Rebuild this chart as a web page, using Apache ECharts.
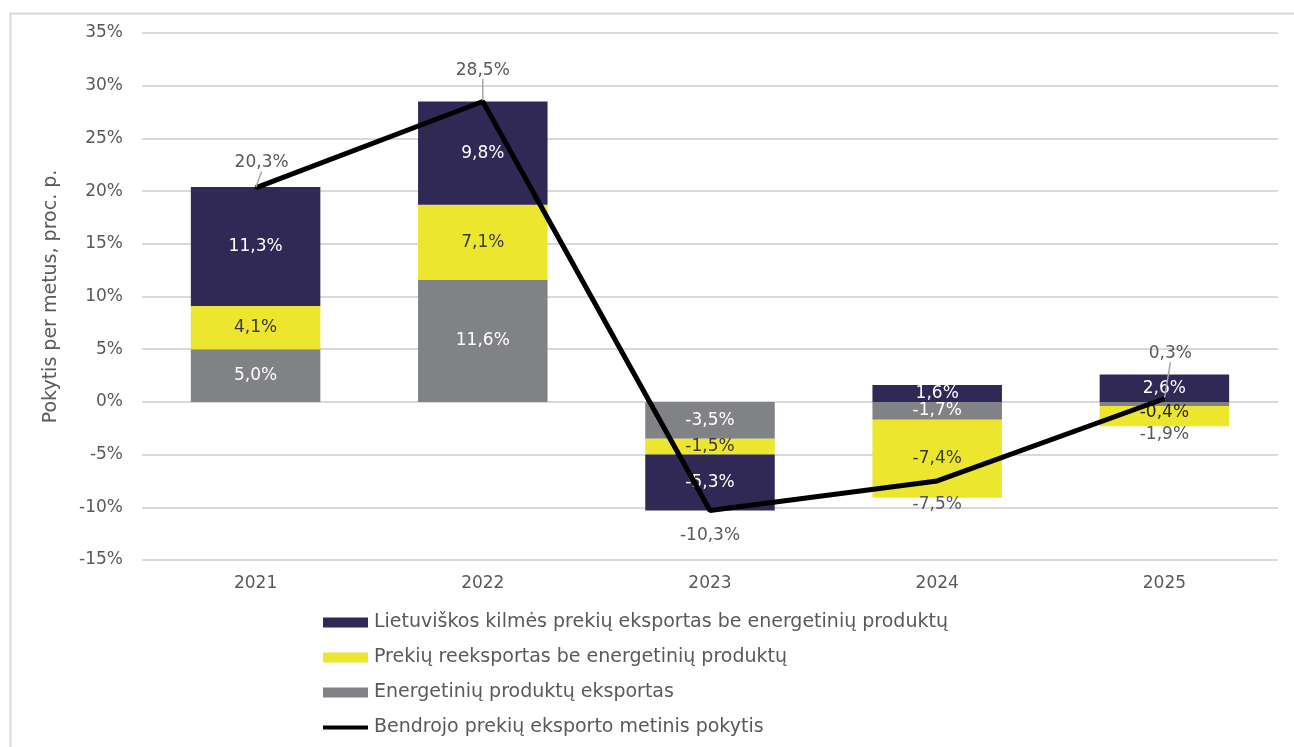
<!DOCTYPE html>
<html><head><meta charset="utf-8">
<script src="https://cdn.jsdelivr.net/npm/echarts@6/dist/echarts.min.js"></script>
<style>html,body{margin:0;padding:0;background:#fff}#c{width:1294px;height:747px}</style>
</head><body><div id="c"></div>
<script>
const categories = ['2021', '2022', '2023', '2024', '2025'];
const energyExport = [5.0, 11.6, -3.5, -1.7, -0.4];
const reExport = [4.1, 7.1, -1.5, -7.4, -1.9];
const domesticExport = [11.3, 9.8, -5.3, 1.6, 2.6];
const totalChange = [20.3, 28.5, -10.3, -7.5, 0.3];
const yTicks = [-15, -10, -5, 0, 5, 10, 15, 20, 25, 30, 35];
const names = [
  'Lietuviškos kilmės prekių eksportas be energetinių produktų',
  'Prekių reeksportas be energetinių produktų',
  'Energetinių produktų eksportas',
  'Bendrojo prekių eksporto metinis pokytis'
];

const FONT = '"DejaVu Sans", Verdana, sans-serif';
const fmt = v => v.toFixed(1).replace('.', ',') + '%';
const TXT = '#595959';

const chart = echarts.init(document.getElementById('c'));
const barLabel = (color) => ({ show: true, position: 'inside', color: color, fontFamily: FONT, fontSize: 17, formatter: p => fmt(p.value) });

const energyData = energyExport.map((v, i) => i === 4 ? { value: v, label: { color: '#222', offset: [0, 9] } } : v);
const reData = reExport.map((v, i) => i === 4 ? { value: v, label: { position: 'bottom', distance: 0, color: TXT } } : v);

// label offsets for the total line (dx, dy); leader line only where the label was moved away
const lineLabelShift = [[6, -25], [0, -31], [0, 25], [0, 24], [6, -45]];
const lineLeader = [true, true, false, false, true];
const lineData = totalChange.map((v, i) => ({ value: v, labelLine: { show: lineLeader[i] } }));

chart.setOption({
  animation: false,
  textStyle: { fontFamily: FONT },
  graphic: [{
    type: 'rect', left: 8, top: 11, silent: true,
    shape: { width: 1320, height: 760 },
    style: { fill: 'none', stroke: '#d9d9d9', lineWidth: 2 }
  }],
  grid: { left: 142, right: 16, top: 33, bottom: 187 },
  legend: {
    orient: 'vertical', left: 318, top: 608, itemGap: 16,
    itemWidth: 45, itemHeight: 10,
    data: [
      { name: names[0], icon: 'rect' },
      { name: names[1], icon: 'rect' },
      { name: names[2], icon: 'rect' },
      { name: names[3], icon: 'path://M0,0L0,0ZM0,3L45,3L45,7L0,7ZM0,10L0,10Z' }],
    textStyle: { fontFamily: FONT, fontSize: 19, color: TXT, padding: [0, 0, 0, 1] }
  },
  xAxis: {
    type: 'category', data: categories,
    axisLine: { show: false }, axisTick: { show: false },
    axisLabel: { color: TXT, fontSize: 17, fontFamily: FONT, margin: 15 },
    position: 'bottom'
  },
  yAxis: {
    type: 'value', min: -15, max: 35, interval: 5,
    name: 'Pokytis per metus, proc. p.', nameLocation: 'middle', nameGap: 81,
    nameTextStyle: { color: TXT, fontSize: 19, fontFamily: FONT },
    axisLabel: { color: TXT, fontSize: 17, fontFamily: FONT, margin: 19, formatter: v => yTicks.includes(v) ? v + '%' : '' },
    splitLine: { lineStyle: { color: '#d9d9d9', width: 2 } },
    axisLine: { show: false }, axisTick: { show: false }
  },
  series: [
    { name: names[2], type: 'bar', stack: 'a', data: energyData, barWidth: '57%',
      itemStyle: { color: '#818286' }, label: barLabel('#ffffff') },
    { name: names[1], type: 'bar', stack: 'a', data: reData,
      itemStyle: { color: '#ece62e' }, label: barLabel('#3a3a3a') },
    { name: names[0], type: 'bar', stack: 'a', data: domesticExport,
      itemStyle: { color: '#302955' }, label: barLabel('#ffffff') },
    { name: names[3], type: 'line', data: lineData, symbol: 'circle', symbolSize: 2, showSymbol: true, z: 5,
      lineStyle: { color: '#000', width: 5 }, itemStyle: { color: '#000' },
      label: { show: true, position: 'inside', color: TXT, fontSize: 17, fontFamily: FONT, formatter: p => fmt(p.value) },
      labelLine: { show: true, lineStyle: { color: '#a6a6a6', width: 1.5 } },
      labelLayout: p => ({ dx: lineLabelShift[p.dataIndex][0], dy: lineLabelShift[p.dataIndex][1] }) }
  ]
});
</script></body></html>
